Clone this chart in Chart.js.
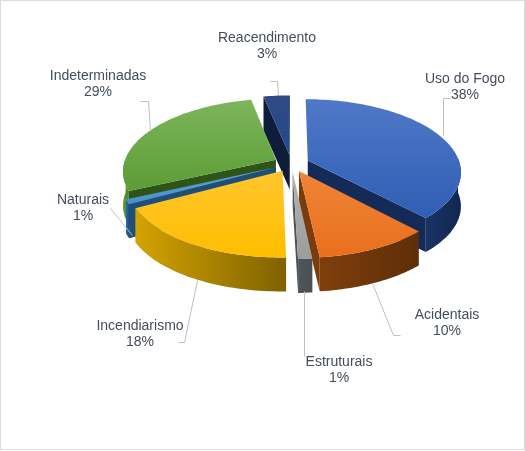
<!DOCTYPE html>
<html>
<head>
<meta charset="utf-8">
<script src="https://cdn.jsdelivr.net/npm/chart.js@4"></script>
<style>
  html, body { margin: 0; padding: 0; background: #fff; }
  #box { width: 525px; height: 451px; }
</style>
</head>
<body>
<div id="box"><canvas id="myChart" width="525" height="451"></canvas></div>
<script>
const categories = ['Uso do Fogo', 'Acidentais', 'Estruturais', 'Incendiarismo', 'Naturais', 'Indeterminadas', 'Reacendimento'];
const values = [38, 10.3, 1.25, 17.6, 1, 28.6, 3.25];

const faceTop = ['#5078C8', '#F08438', '#B4B4B4', '#FFC52E', '#5FA0D8', '#7DB55C', '#314A82'];
const faceBottom = ['#2F5EB4', '#E96F1C', '#9C9C9C', '#FFBE00', '#4A90CC', '#5C9C34', '#1F4A8E'];
const wallLeft = ['#1A3468', '#7E3F0C', '#50565A', '#D4A300', '#2C6FA8', '#5E9A36', '#14264C'];
const wallRight = ['#122650', '#5E2E08', '#4A4E50', '#7F6200', '#1F4E79', '#4A8428', '#1E3C74'];
const sideWall = ['#142B58', '#7A3C0A', '#4F5355', '#A88400', '#1F4E79', '#2E5418', '#101D3A'];

// label text position + leader line for each slice
const labelSpots = [
  { x: 465, y: 79, line: [[450, 98], [443, 98], [443, 135]] },
  { x: 447, y: 315, line: [[372, 283], [393, 335], [400, 335]] },
  { x: 339, y: 362, line: [[304, 291], [304, 356]] },
  { x: 140, y: 326, line: [[178, 342], [184, 342], [197, 280]] },
  { x: 83, y: 200, line: [[110, 208], [132, 235]] },
  { x: 98, y: 76, line: [[140, 101], [148, 101], [150, 130]] },
  { x: 267, y: 38, line: [[270, 81], [277, 81], [278, 95]] }
];

const DEPTH = 34;
const TILT = 0.469;
const PERSP = 0.15;

// flat pie point -> tilted screen point
let project = (arc, x, y) => {
  const v = (y - arc.y) / arc.outerRadius;
  const s = 1 / (1 - v * PERSP);
  return [arc.x + (x - arc.x) * s, arc.y + (y - arc.y) * TILT * s];
};

let outline = (arc) => {
  const mid = (arc.startAngle + arc.endAngle) / 2;
  const off = arc.options.offset;
  const ox = arc.x + Math.cos(mid) * off;
  const oy = arc.y + Math.sin(mid) * off;
  const rim = [];
  const front = [];
  const steps = Math.max(4, Math.ceil((arc.endAngle - arc.startAngle) * 40));
  for (let k = 0; k <= steps; k++) {
    const a = arc.startAngle + (arc.endAngle - arc.startAngle) * k / steps;
    const p = project(arc, ox + Math.cos(a) * arc.outerRadius, oy + Math.sin(a) * arc.outerRadius);
    rim.push(p);
    if (Math.sin(a) > -0.03) front.push(p);
  }
  return { apex: project(arc, ox, oy), rim, front };
};

let fillPoly = (ctx, pts, fill) => {
  ctx.beginPath();
  pts.forEach((p, n) => n ? ctx.lineTo(p[0], p[1]) : ctx.moveTo(p[0], p[1]));
  ctx.closePath();
  ctx.fillStyle = fill;
  ctx.fill();
};

let down = (p) => [p[0], p[1] + DEPTH];

const pie3d = {
  id: 'pie3d',
  beforeDatasetsDraw(chart) {
    const ctx = chart.ctx;
    const arcs = chart.getDatasetMeta(0).data;
    const midSin = (a) => Math.sin((a.startAngle + a.endAngle) / 2);
    const order = arcs.map((a, i) => i).sort((a, b) => midSin(arcs[a]) - midSin(arcs[b]));
    order.forEach(i => {
      const arc = arcs[i];
      const { apex, rim, front } = outline(arc);
      const first = rim[0];
      const last = rim[rim.length - 1];
      // outer wall, only the part that faces the viewer
      if (front.length > 1) {
        const xs = front.map(p => p[0]);
        const g = ctx.createLinearGradient(Math.min(...xs), 0, Math.max(...xs), 0);
        g.addColorStop(0, wallLeft[i]);
        g.addColorStop(1, wallRight[i]);
        fillPoly(ctx, front.concat(front.slice().reverse().map(down)), g);
      }
      // cut faces, same idea
      if (-Math.cos(arc.startAngle) > 0.01) fillPoly(ctx, [apex, first, down(first), down(apex)], sideWall[i]);
      if (Math.cos(arc.endAngle) > 0.01) fillPoly(ctx, [apex, last, down(last), down(apex)], sideWall[i]);
      // top face
      const ys = rim.concat([apex]).map(p => p[1]);
      const t = ctx.createLinearGradient(0, Math.min(...ys), 0, Math.max(...ys));
      t.addColorStop(0, faceTop[i]);
      t.addColorStop(1, faceBottom[i]);
      fillPoly(ctx, [apex].concat(rim), t);
    });
    return false;
  },
  afterDraw(chart) {
    const ctx = chart.ctx;
    const total = values.reduce((a, b) => a + b, 0);
    ctx.save();
    ctx.strokeStyle = '#DDDDDD';
    ctx.lineWidth = 1;
    ctx.strokeRect(0.5, 0.5, 524, 449);
    ctx.strokeStyle = '#BFBFBF';
    labelSpots.forEach(s => {
      ctx.beginPath();
      s.line.forEach((p, n) => n ? ctx.lineTo(p[0] + 0.5, p[1] + 0.5) : ctx.moveTo(p[0] + 0.5, p[1] + 0.5));
      ctx.stroke();
    });
    ctx.font = '14px "Liberation Sans"';
    ctx.fillStyle = '#434D5C';
    ctx.textAlign = 'center';
    ctx.textBaseline = 'middle';
    categories.forEach((name, i) => {
      ctx.fillText(name, labelSpots[i].x, labelSpots[i].y);
      ctx.fillText(Math.round(values[i] / total * 100) + '%', labelSpots[i].x, labelSpots[i].y + 16);
    });
    ctx.restore();
  }
};

new Chart(document.getElementById('myChart'), {
  type: 'pie',
  data: {
    labels: categories,
    datasets: [{
      data: values,
      backgroundColor: faceBottom,
      borderWidth: 0,
      offset: 17.6,
      radius: 152
    }]
  },
  options: {
    responsive: false,
    animation: false,
    layout: { padding: { left: 58, right: 0, top: 0, bottom: 124 } },
    plugins: { legend: { display: false }, tooltip: { enabled: false } }
  },
  plugins: [pie3d]
});
</script>
</body>
</html>
